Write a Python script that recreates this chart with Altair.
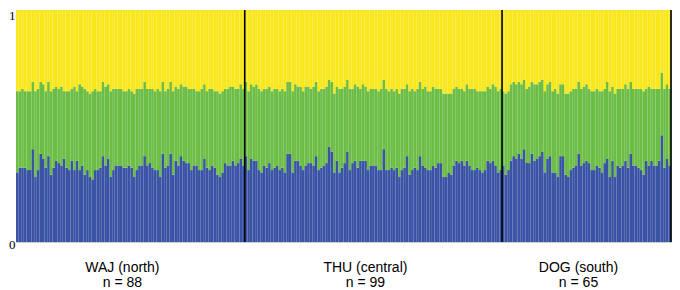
import altair as alt
import pandas as pd

groups = ["WAJ (north)", "THU (central)", "DOG (south)"]
counts = [88, 99, 65]
clusters = ["blue", "green", "yellow"]
colors = ["#3a53a4", "#6cbd45", "#f8e71c"]

# membership proportions (%), per individual: blue (bottom) and green (middle); yellow is the remainder
waj_blue = [30, 32, 32, 32, 31, 31, 40, 28, 31, 38, 36, 32, 37, 29, 32, 35, 34, 33, 36, 32,
            31, 35, 31, 35, 31, 33, 29, 31, 28, 27, 31, 31, 32, 37, 33, 36, 28, 31, 33, 33,
            33, 32,
            32, 33, 32, 28, 31, 33, 33, 37, 33, 34, 32, 31, 31, 28, 38, 32, 33, 38, 29, 35,
            33, 37, 35, 34, 34, 31, 33, 33, 31, 31, 36, 32, 31, 33, 32, 29, 28, 30, 34, 33,
            33, 35, 33, 34, 36, 33]
waj_green = [35, 33, 34, 33, 34, 34, 29, 37, 35, 31, 32, 33, 32, 36, 34, 32, 32, 34, 29, 33,
             34, 31, 36, 30, 37, 34, 37, 34, 36, 38, 35, 34, 33, 32, 34, 32, 37, 35, 33, 33,
             33, 33,
             33, 33, 33, 36, 35, 33, 33, 32, 33, 32, 34, 34, 35, 37, 31, 33, 33, 31, 36, 32,
             33, 31, 32, 33, 32, 35, 33, 32, 34, 35, 32, 33, 35, 33, 33, 36, 36, 35, 32, 33,
             34, 32, 33, 32, 32, 33]

thu_blue = [37, 31, 36, 35, 35, 31, 30, 33, 32, 34, 31, 32, 33, 31, 32, 30, 38, 38, 30, 35,
            35, 33, 31, 33, 34, 34, 33, 37, 31, 32, 33, 34, 41, 39, 30, 35, 30, 32, 34, 39,
            31, 34, 35, 32, 35, 35, 35,
            31, 33, 33, 33, 31, 31, 40, 31, 31, 32, 31, 32, 28, 31, 32, 37, 29, 31, 32, 31,
            37, 33, 32, 31, 31, 33, 32, 34, 34, 28, 28, 30, 29, 33, 35, 34, 35, 33, 35, 33,
            31, 31, 32, 31, 30, 31,
            35, 34, 35, 33, 30, 31]
thu_green = [32, 34, 32, 32, 33, 35, 35, 33, 34, 33, 34, 34, 33, 34, 34, 35, 31, 31, 35, 33,
             32, 34, 34, 34, 33, 32, 34, 32, 34, 34, 33, 33, 29, 30, 34, 32, 36, 34, 33, 31,
             35, 32, 33, 35, 31, 33, 32,
             34, 33, 33, 33, 34, 35, 30, 35, 34, 34, 34, 34, 36, 35, 34, 31, 36, 35, 33, 35,
             32, 33, 35, 34, 34, 34, 34, 32, 32, 36, 36, 34, 35, 33, 32, 32, 31, 32, 33, 33,
             35, 35, 33, 34, 35, 34,
             32, 32, 33, 34, 35, 35]

dog_blue = [33, 29, 31, 35, 37, 36, 38, 36, 40, 34, 34, 38, 35, 36, 37, 39, 30, 36, 37, 30,
            30, 28, 37, 37, 29, 28, 31, 32,
            33, 38, 33, 34, 35, 34, 31, 31, 33, 32, 30, 34, 36, 28, 35, 28, 33, 32, 33, 35,
            32, 38, 33, 33, 32, 31, 29, 35, 33, 35, 33, 33, 35, 46, 32, 36, 33]
dog_green = [32, 35, 34, 33, 32, 32, 31, 32, 30, 32, 33, 31, 33, 32, 32, 31, 35, 32, 32, 35,
             36, 36, 31, 31, 35, 36, 34, 34,
             33, 31, 33, 33, 33, 32, 34, 34, 33, 33, 35, 32, 33, 37, 32, 36, 33, 34, 33, 33,
             34, 31, 33, 33, 34, 35, 36, 31, 34, 31, 33, 33, 31, 27, 34, 32, 33]

rows = []
idx = 0
for blues, greens in [(waj_blue, waj_green), (thu_blue, thu_green), (dog_blue, dog_green)]:
    for b, g in zip(blues, greens):
        vals = [b, g, 100 - b - g]
        y0 = 0
        for k, v in enumerate(vals):
            rows.append(dict(i=idx, i2=idx + 1, cluster=clusters[k], y0=y0, y1=y0 + v))
            y0 += v
        idx += 1
df = pd.DataFrame(rows)
total = idx

bounds = []
start = 0
for name, n in zip(groups, counts):
    bounds.append(dict(name=name, ntext=f"n = {n}", center=start + n / 2, end=start + n))
    start += n
bdf = pd.DataFrame(bounds)

W, H = 655, 232
x_scale = alt.Scale(domain=[0, total], nice=False, zero=False)
y_scale = alt.Scale(domain=[0, 100], nice=False)

bars = alt.Chart(df).mark_rect().encode(
    x=alt.X("i:Q", scale=x_scale, axis=None),
    x2="i2:Q",
    y=alt.Y("y0:Q", scale=y_scale, axis=None),
    y2="y1:Q",
    color=alt.Color("cluster:N", scale=alt.Scale(domain=clusters, range=colors), legend=None),
)

rules = alt.Chart(bdf).mark_rule(color="black", strokeWidth=1.6).encode(
    x=alt.X("end:Q", scale=x_scale, axis=None),
    y=alt.value(0),
    y2=alt.value(H),
)

lab1 = alt.Chart(bdf).mark_text(font="Liberation Sans", fontSize=14, color="black",
                                baseline="alphabetic", dx=-8).encode(
    x=alt.X("center:Q", scale=x_scale, axis=None),
    y=alt.value(H + 30),
    text="name:N",
)
lab2 = alt.Chart(bdf).mark_text(font="Liberation Sans", fontSize=14, color="black",
                                baseline="alphabetic", dx=-8).encode(
    x=alt.X("center:Q", scale=x_scale, axis=None),
    y=alt.value(H + 45),
    text="ntext:N",
)

ydf = pd.DataFrame({"lab": ["1", "0"], "val": [100, 0]})
ytop = alt.Chart(ydf).transform_filter(alt.datum.val == 100).mark_text(
    font="Liberation Serif", fontSize=13, color="black", align="right", baseline="top"
).encode(x=alt.value(-0.5), y=alt.Y("val:Q", scale=y_scale, axis=None), text="lab:N")
ybot = alt.Chart(ydf).transform_filter(alt.datum.val == 0).mark_text(
    font="Liberation Serif", fontSize=13, color="black", align="right", baseline="middle", dy=3
).encode(x=alt.value(-0.5), y=alt.Y("val:Q", scale=y_scale, axis=None), text="lab:N")

chart = alt.layer(bars, rules, lab1, lab2, ytop, ybot).properties(
    width=W, height=H,
    padding={"left": 8, "right": 1, "top": 2, "bottom": 47},
    autosize=alt.AutoSizeParams(type="none"),
    background="white",
).configure_view(stroke="#cccccc", strokeWidth=1)

chart.save("out.html", embed_options={"renderer": "svg", "actions": False})
